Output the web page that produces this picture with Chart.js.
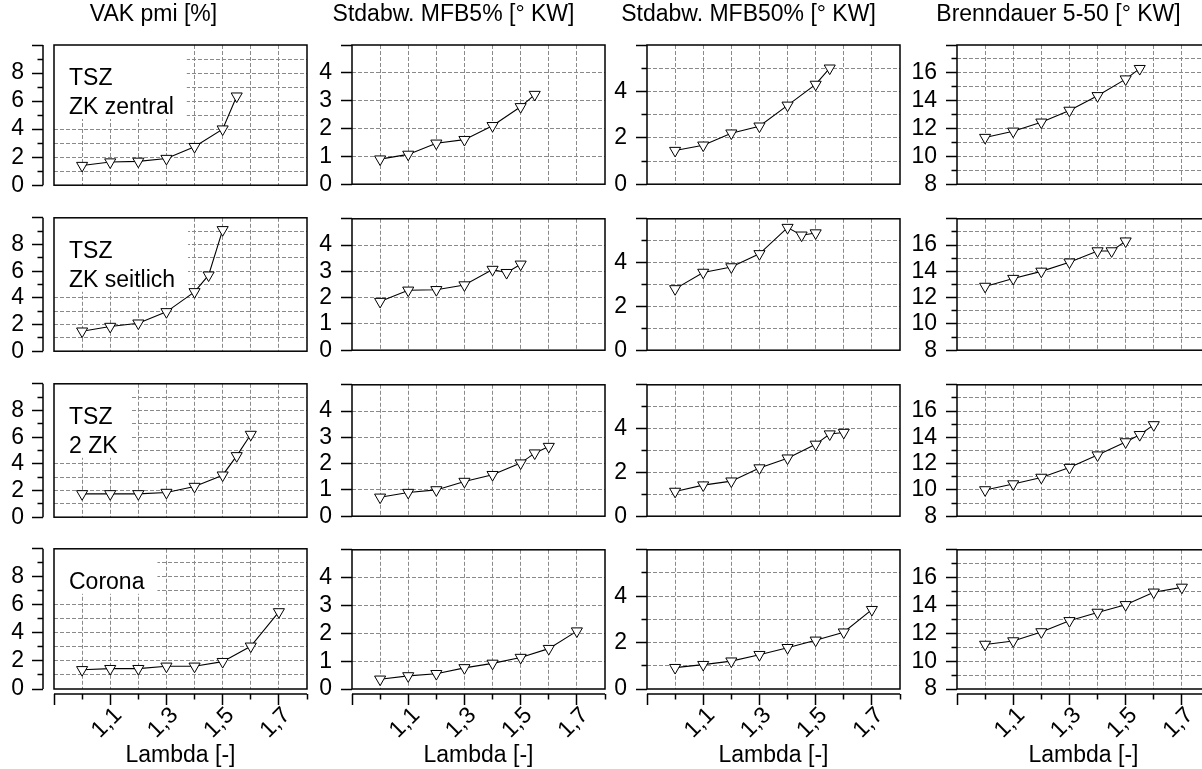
<!DOCTYPE html>
<html>
<head>
<meta charset="utf-8">
<script src="https://cdn.jsdelivr.net/npm/chart.js@4.4.0/dist/chart.umd.min.js"></script>
<style>
  html, body { margin: 0; padding: 0; background: #fff; overflow: hidden; }
  #wrap { position: relative; width: 1202px; height: 769px; overflow: hidden; background: #fff; }
  canvas { position: absolute; }
</style>
</head>
<body>
<div id="wrap"></div>
<script>
// Lambda values for each operating row
const lambdaZentral  = [1.0, 1.1, 1.2, 1.3, 1.4, 1.5, 1.55];
const lambdaSeitlich = [1.0, 1.1, 1.2, 1.3, 1.4, 1.45, 1.5];
const lambda2ZK      = [1.0, 1.1, 1.2, 1.3, 1.4, 1.5, 1.55, 1.6];
const lambdaCorona   = [1.0, 1.1, 1.2, 1.3, 1.4, 1.5, 1.6, 1.7];
const lambdas = [lambdaZentral, lambdaSeitlich, lambda2ZK, lambdaCorona];

const rowNames = [['TSZ', 'ZK zentral'], ['TSZ', 'ZK seitlich'], ['TSZ', '2 ZK'], ['Corona']];
const colTitles = ['VAK pmi [%]', 'Stdabw. MFB5% [° KW]', 'Stdabw. MFB50% [° KW]', 'Brenndauer 5-50 [° KW]'];

// one array per column, rows: zentral, seitlich, 2 ZK, Corona
const vakPmi = [
  [1.4, 1.65, 1.7, 1.9, 2.75, 4.0, 6.35],
  [1.5, 1.85, 2.1, 2.95, 4.45, 5.7, 9.1],
  [1.75, 1.75, 1.75, 1.85, 2.3, 3.15, 4.6, 6.2],
  [1.37, 1.45, 1.45, 1.62, 1.62, 1.95, 3.05, 5.5]
];
const stdMfb5 = [
  [0.9, 1.07, 1.47, 1.6, 2.1, 2.78, 3.22],
  [1.85, 2.28, 2.3, 2.48, 3.07, 2.95, 3.27],
  [0.72, 0.9, 1.0, 1.32, 1.58, 2.02, 2.4, 2.65],
  [0.35, 0.47, 0.55, 0.76, 0.92, 1.13, 1.45, 2.08]
];
const stdMfb50 = [
  [1.45, 1.68, 2.2, 2.5, 3.4, 4.3, 5.0],
  [2.8, 3.55, 3.8, 4.4, 5.6, 5.25, 5.35],
  [1.13, 1.42, 1.6, 2.2, 2.65, 3.28, 3.75, 3.82],
  [0.92, 1.05, 1.2, 1.48, 1.78, 2.1, 2.45, 3.42]
];
const brenndauer = [
  [11.35, 11.8, 12.45, 13.3, 14.35, 15.55, 16.3],
  [12.85, 13.45, 14.0, 14.7, 15.55, 15.55, 16.3],
  [10.0, 10.45, 10.95, 11.7, 12.65, 13.65, 14.2, 14.95],
  [11.2, 11.45, 12.1, 12.9, 13.5, 14.05, 14.95, 15.3]
];
const columns = [vakPmi, stdMfb5, stdMfb50, brenndauer];

// axes
const yMin = [0, 0, 0, 8];
const yMax = [10, 5, 6, 18];
const yMajorStep = [2, 1, 2, 2];
const yTickLabels = [[0, 2, 4, 6, 8], [0, 1, 2, 3, 4], [0, 2, 4], [8, 10, 12, 14, 16]];
const xTickValues = [1.1, 1.3, 1.5, 1.7];
const xTickLabels = ['1,1', '1,3', '1,5', '1,7'];

// layout of the plot boxes on the page
const boxLeft = [54, 352, 647, 957];
const boxTop = [45, 211, 377, 542];
const titleCenter = [180, 478, 773, 1076];
const BOX_W = 253, BOX_H = 147;

const FONT = "'Liberation Sans', Arial, sans-serif";
const FS = 23;
const GRID = '#8a8a8a';
Chart.defaults.font.family = FONT;
Chart.defaults.font.size = FS;
Chart.defaults.color = '#000';

const near = (a, b) => Math.abs(a - b) < 1e-6;
const isXMajor = v => near(v, 0.9) || xTickValues.some(t => near(t, v));

// box round the plot area, offset axis lines and the row label
const framePlugin = {
  id: 'frame',
  beforeDatasetsDraw(chart, args, o) {
    const {ctx, chartArea: a, scales} = chart;
    ctx.save();
    if (o.label) {
      ctx.font = FS + 'px ' + FONT;
      const w = Math.max(...o.label.map(t => ctx.measureText(t).width));
      ctx.fillStyle = '#fff';
      ctx.fillRect(a.left, a.top, 16 + w + 12, 16 + 29 * o.label.length);
      ctx.fillStyle = '#000';
      ctx.textBaseline = 'middle';
      o.label.forEach((t, i) => ctx.fillText(t, a.left + 15, a.top + 34 + 29 * i));
    }
    ctx.strokeStyle = '#000';
    ctx.lineWidth = 1.5;
    ctx.strokeRect(a.left, a.top, a.right - a.left, a.bottom - a.top);
    if (o.yGap) {
      const y = scales.y, x0 = a.left - o.yGap;
      ctx.beginPath();
      ctx.moveTo(x0, y.getPixelForValue(y.min));
      ctx.lineTo(x0, y.getPixelForValue(y.max));
      ctx.stroke();
    }
    if (o.xGap) {
      const x = scales.x, y0 = a.bottom + o.xGap;
      ctx.beginPath();
      ctx.moveTo(x.getPixelForValue(x.min), y0);
      ctx.lineTo(x.getPixelForValue(x.max), y0);
      ctx.stroke();
    }
    ctx.restore();
  }
};

const wrap = document.getElementById('wrap');

function makePanel(r, c) {
  const first = c === 0, top = r === 0, bottom = r === 3;
  const L = first ? 54 : 50;
  const T = top ? 45 : 15;
  const B = bottom ? 80 : 15;
  const left = boxLeft[c] - L;
  const W = Math.round(2 * (titleCenter[c] - left));
  const R = W - L - BOX_W;
  const H = T + BOX_H + B;
  const cv = document.createElement('canvas');
  cv.width = W; cv.height = H;
  cv.style.left = left + 'px';
  cv.style.top = (boxTop[r] - T) + 'px';
  cv.style.width = W + 'px';
  cv.style.height = H + 'px';
  wrap.appendChild(cv);

  const yGap = first ? 11 : 0;
  const xGap = 5;
  const points = lambdas[r].map((x, i) => ({x, y: columns[c][r][i]}));

  new Chart(cv, {
    type: 'line',
    data: {
      datasets: [{
        data: points,
        borderColor: '#000',
        borderWidth: 1.1,
        pointStyle: 'triangle',
        pointRotation: 180,
        pointRadius: 6.4,
        pointBackgroundColor: '#fff',
        pointBorderColor: '#000',
        pointBorderWidth: 1
      }]
    },
    options: {
      responsive: false,
      animation: false,
      events: [],
      layout: { padding: { left: 0, right: R, top: top ? 0 : T, bottom: bottom ? 0 : B } },
      plugins: {
        legend: { display: false },
        tooltip: { enabled: false },
        title: {
          display: top,
          text: colTitles[c],
          font: { size: FS, weight: 'normal' },
          padding: { top: 1, bottom: T - 1 - FS * 1.2 }
        },
        frame: { label: first ? rowNames[r] : null, yGap, xGap: bottom ? xGap : 0 }
      },
      scales: {
        x: {
          type: 'linear', min: 0.9, max: 1.8,
          afterFit: s => { s.height = bottom ? B : 0; },
          border: { display: false, dash: [4, 2] },
          grid: {
            color: ctx => (ctx.tick && (near(ctx.tick.value, 0.9) || near(ctx.tick.value, 1.8))) ? 'rgba(0,0,0,0)' : GRID,
            lineWidth: 1,
            drawTicks: bottom,
            tickLength: xGap + 11,
            tickColor: '#000',
            tickWidth: 1.5,
            tickBorderDash: ctx => (ctx.tick && isXMajor(ctx.tick.value)) ? [0, xGap, 11, 100] : [0, xGap, 5.5, 100]
          },
          ticks: {
            display: bottom, stepSize: 0.1, autoSkip: false,
            minRotation: 45, maxRotation: 45, padding: -3, labelOffset: 8,
            callback: v => {
              const i = xTickValues.findIndex(t => near(t, v));
              return i < 0 ? '' : xTickLabels[i];
            }
          },
          title: { display: bottom, text: 'Lambda [-]', padding: 0 }
        },
        y: {
          min: yMin[c], max: yMax[c],
          afterFit: s => { s.width = L; },
          border: { display: false, dash: [4, 2] },
          grid: {
            color: ctx => (ctx.tick && (ctx.tick.value === yMin[c] || ctx.tick.value === yMax[c])) ? 'rgba(0,0,0,0)' : GRID,
            lineWidth: 1,
            tickLength: yGap + 11,
            tickColor: '#000',
            tickWidth: 1.5,
            tickBorderDash: ctx => (ctx.tick && (ctx.tick.value - yMin[c]) % yMajorStep[c] === 0) ? [11, 100] : [0, 5.5, 5.5, 100]
          },
          ticks: {
            stepSize: 1, autoSkip: false, padding: first ? 8 : 9,
            callback: v => yTickLabels[c].includes(v) ? String(v) : ''
          }
        }
      }
    },
    plugins: [framePlugin]
  });
}

for (let r = 0; r < 4; r++) {
  for (let c = 0; c < 4; c++) makePanel(r, c);
}
</script>
</body>
</html>
